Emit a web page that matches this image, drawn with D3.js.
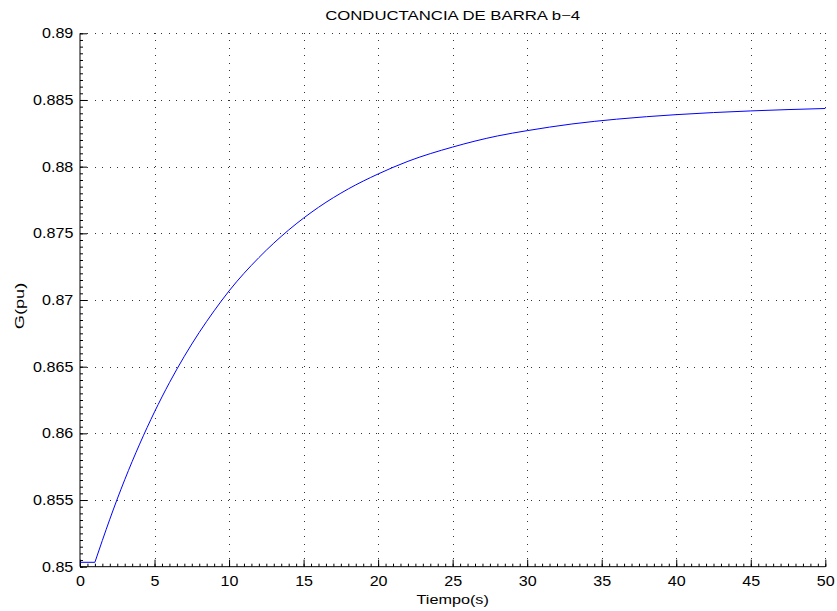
<!DOCTYPE html>
<head>
	<meta charset="utf-8">
	<script src="https://d3js.org/d3.v7.min.js"></script>
	<style>
		body { margin: 0; background: #fff; }
		text { font-family: "Liberation Sans", Arial, sans-serif; fill: #000; }
	</style>
</head>
<body>
	<svg id="chart" width="837" height="611"></svg>
	<script>

	// data
	var tiempo = [0, 1, 1.5, 2, 2.5, 3, 4, 5, 6, 7, 8, 9, 10, 12, 14, 16, 18, 20, 22, 25, 28, 30, 33, 36, 40, 45, 50];
	var conductancia = [0.85033, 0.85033, 0.85197, 0.85356, 0.85508, 0.85652, 0.85919, 0.86161, 0.86380, 0.86578,
		0.86757, 0.86919, 0.87068, 0.87318, 0.87525, 0.87695, 0.87833, 0.87945, 0.88040, 0.88147,
		0.88230, 0.88270, 0.88320, 0.88356, 0.88390, 0.88418, 0.88436];
	var xTicks = [0, 5, 10, 15, 20, 25, 30, 35, 40, 45, 50];
	var yTicks = [0.85, 0.855, 0.86, 0.865, 0.87, 0.875, 0.88, 0.885, 0.89];
	var titulo = "CONDUCTANCIA DE BARRA b\u22124";
	var xLabel = "Tiempo(s)";
	var yLabel = "G(pu)";

	var svg = d3.select("#chart");
	var mLeft = 80, mRight = 825.3, mTop = 33.3, mBottom = 566.7;

	var x = d3.scaleLinear().domain([0, 50]).range([mLeft, mRight]);
	var y = d3.scaleLinear().domain([0.85, 0.89]).range([mBottom, mTop]);

	// grid (dotted)
	var grid = svg.append("g").attr("stroke", "#333").attr("stroke-width", 1)
		.attr("stroke-dasharray", "1,6.4").attr("shape-rendering", "crispEdges");
	grid.selectAll(".gx").data(xTicks.slice(1)).enter().append("line")
		.attr("x1", function(d) { return Math.round(x(d)) + 0.5; })
		.attr("x2", function(d) { return Math.round(x(d)) + 0.5; })
		.attr("y1", mBottom).attr("y2", mTop);
	grid.selectAll(".gy").data(yTicks.slice(1)).enter().append("line")
		.attr("y1", function(d) { return Math.round(y(d)) + 0.5; })
		.attr("y2", function(d) { return Math.round(y(d)) + 0.5; })
		.attr("x1", mLeft).attr("x2", mRight);

	// minor ticks
	var xMinor = d3.range(0, 50.01, 0.5);
	var yMinor = d3.range(0, 81).map(function(i) { return 0.85 + i * 0.0005; });

	// axes, ticks pointing inward like matlab
	var xAxis = svg.append("g").attr("transform", "translate(0," + mBottom + ")")
		.call(d3.axisBottom(x).tickValues(xMinor).tickSize(-3).tickFormat(""));
	xAxis.select(".domain").remove();
	var xAxisMaj = svg.append("g").attr("transform", "translate(0," + mBottom + ")")
		.call(d3.axisBottom(x).tickValues(xTicks).tickSize(-7).tickPadding(9).tickFormat(d3.format("d")));
	xAxisMaj.select(".domain").attr("d", "M" + mLeft + ",0H" + mRight);

	var yAxis = svg.append("g").attr("transform", "translate(" + mLeft + ",0)")
		.call(d3.axisLeft(y).tickValues(yMinor).tickSize(-3).tickFormat(""));
	yAxis.select(".domain").remove();
	var yAxisMaj = svg.append("g").attr("transform", "translate(" + mLeft + ",0)")
		.call(d3.axisLeft(y).tickValues(yTicks).tickSize(-7).tickPadding(5.8).tickFormat(function(d) { return String(+d.toFixed(3)); }));
	yAxisMaj.select(".domain").attr("d", "M0," + mBottom + "V" + mTop);

	// the original text is a bit wider than Liberation Sans
	svg.selectAll(".tick text").style("font-size", "14px").attr("transform", "scale(1.15,1)");
	svg.selectAll(".tick line").attr("stroke", "#000");

	// curve: flat part then the rise
	var line = d3.line()
		.x(function(d) { return x(d[0]); })
		.y(function(d) { return y(d[1]); });
	var pts = tiempo.map(function(t, i) { return [t, conductancia[i]]; });
	svg.append("path").datum(pts.slice(0, 2))
		.attr("fill", "none").attr("stroke", "#0000ff").attr("stroke-width", 1)
		.attr("d", line);
	svg.append("path").datum(pts.slice(1))
		.attr("fill", "none").attr("stroke", "#0000ff").attr("stroke-width", 1)
		.attr("d", line.curve(d3.curveMonotoneX));

	// labels
	svg.append("text").attr("transform", "translate(" + ((mLeft + mRight) / 2) + ",20) scale(1.34,1)")
		.attr("text-anchor", "middle").style("font-size", "12.5px").text(titulo);
	svg.append("text").attr("transform", "translate(" + ((mLeft + mRight) / 2) + ",604) scale(1.2,1)")
		.attr("text-anchor", "middle").style("font-size", "13.5px").text(xLabel);
	svg.append("text").attr("transform", "translate(24,306) rotate(-90) scale(1.35,1)")
		.attr("text-anchor", "middle").style("font-size", "13.5px").text(yLabel);

	</script>
</body>
</html>
